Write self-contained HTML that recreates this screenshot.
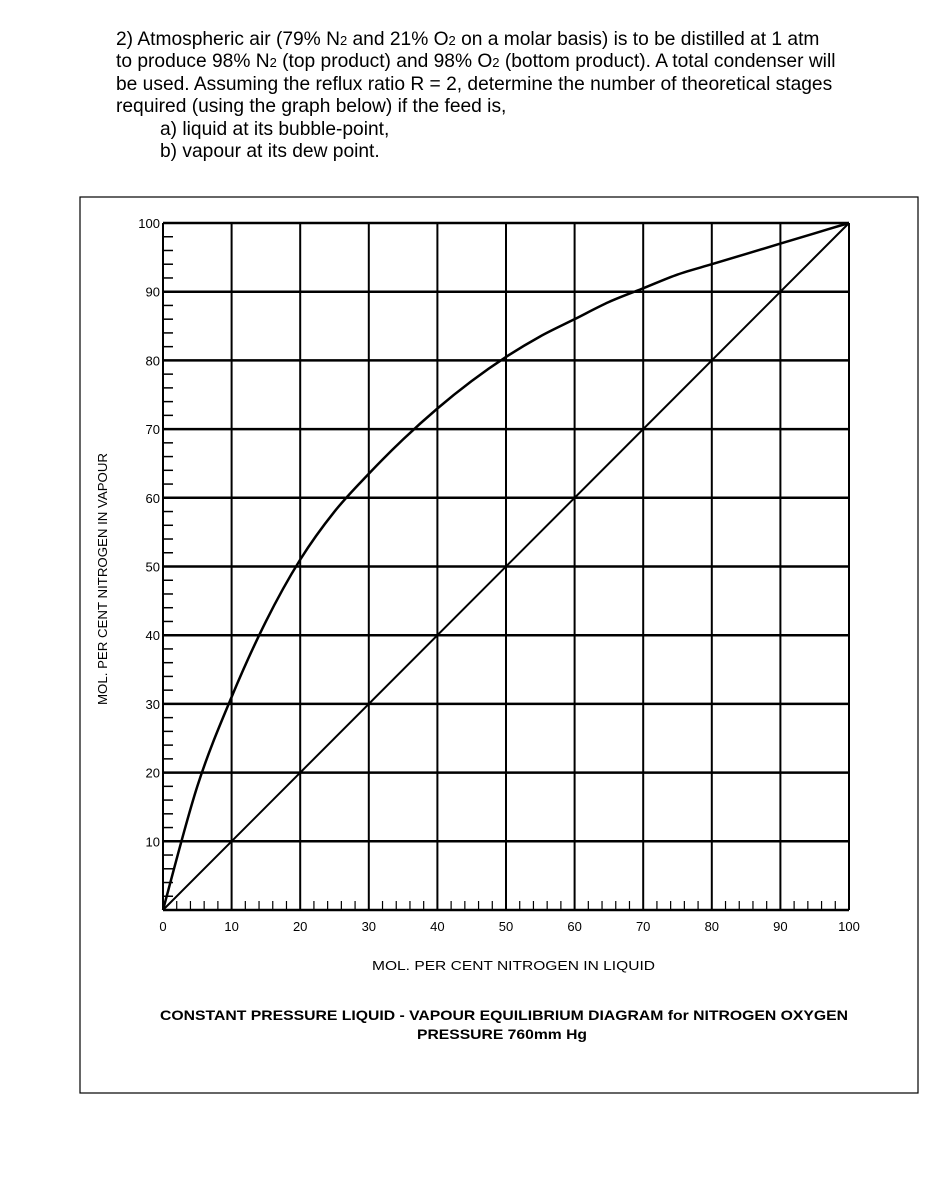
<!DOCTYPE html>
<html><head><meta charset="utf-8"><style>
body{margin:0;background:#fff;width:940px;height:1204px;position:relative;font-family:"Liberation Sans",Arial,sans-serif;overflow:hidden}
.q{position:absolute;font-size:19.2px;line-height:22px;color:#000;white-space:nowrap}
.q sub{font-size:13px;vertical-align:baseline;line-height:0}
</style></head><body>
<div class="q" style="left:116px;top:29px">2) Atmospheric air (79% N<sub>2</sub> and 21% O<sub>2</sub> on a molar basis) is to be distilled at 1 atm</div>
<div class="q" style="left:116px;top:51px">to produce 98% N<sub>2</sub> (top product) and 98% O<sub>2</sub> (bottom product). A total condenser will</div>
<div class="q" style="left:116px;top:74px">be used. Assuming the reflux ratio R = 2, determine the number of theoretical stages</div>
<div class="q" style="left:116px;top:96px">required (using the graph below) if the feed is,</div>
<div class="q" style="left:160px;top:119px">a) liquid at its bubble-point,</div>
<div class="q" style="left:160px;top:141px">b) vapour at its dew point.</div>
<svg id="chart" width="940" height="1204" style="position:absolute;left:0;top:0">
<rect x="80" y="197" width="838" height="896" fill="none" stroke="#000" stroke-width="1.2"/>
<g id="grid"></g><g id="marks"></g>
<text x="372" y="970" font-size="13" textLength="283" lengthAdjust="spacingAndGlyphs" font-family="Liberation Sans,sans-serif">MOL. PER CENT NITROGEN IN LIQUID</text>
<text transform="translate(107,705) rotate(-90)" font-size="13" textLength="252" lengthAdjust="spacingAndGlyphs" font-family="Liberation Sans,sans-serif">MOL. PER CENT NITROGEN IN VAPOUR</text>
<text x="160" y="1020" font-size="14" font-weight="bold" textLength="688" lengthAdjust="spacingAndGlyphs" font-family="Liberation Sans,sans-serif">CONSTANT PRESSURE LIQUID - VAPOUR EQUILIBRIUM DIAGRAM for NITROGEN OXYGEN</text>
<text x="417" y="1039" font-size="14" font-weight="bold" textLength="170" lengthAdjust="spacingAndGlyphs" font-family="Liberation Sans,sans-serif">PRESSURE 760mm Hg</text>
</svg>
<script>
const ticks=[0,10,20,30,40,50,60,70,80,90,100];
const liqX=[0,5,10,15,20,25,30,35,40,45,50,55,60,65,70,75,80,85,90,95,100];
const vapY=[0,18,31,42,51,58,63.5,68.5,73,77,80.5,83.5,86,88.5,90.5,92.5,94,95.5,97,98.5,100];
const X0=163,X1=849,Y0=910,Y1=223;
const sx=v=>X0+(X1-X0)*v/100, sy=v=>Y0-(Y0-Y1)*v/100;
const NS="http://www.w3.org/2000/svg";
const g=document.getElementById('grid'),m=document.getElementById('marks');
function mk(p,t,a){const e=document.createElementNS(NS,t);for(const k in a)e.setAttribute(k,a[k]);p.appendChild(e);return e;}
ticks.forEach(t=>{
 let l=mk(g,'line',{x1:sx(t),x2:sx(t),y1:Y0,y2:Y1,stroke:'#000','stroke-width':2});
 
 
 l=mk(g,'line',{x1:X0,x2:X1,y1:sy(t),y2:sy(t),stroke:'#000','stroke-width':2.5});
 
 
 let tx=mk(g,'text',{x:sx(t),y:Y0+21,'font-size':13,'text-anchor':'middle','font-family':'Liberation Sans,sans-serif'});
 tx.textContent=t;
 
 
 if(t>0){tx=mk(g,'text',{x:X0-3,y:sy(t)+5,'font-size':13,'text-anchor':'end','font-family':'Liberation Sans,sans-serif'});
 tx.textContent=t;
 
 }
});
for(let v=2;v<100;v+=2){if(v%10==0)continue;
 let l=mk(g,'line',{x1:X0,x2:X0+10,y1:sy(v),y2:sy(v),stroke:'#000','stroke-width':1.5});
 
 
 l=mk(g,'line',{x1:sx(v),x2:sx(v),y1:Y0,y2:Y0-9,stroke:'#000','stroke-width':1.2});
 
 }
let d=mk(m,'line',{x1:sx(0),y1:sy(0),x2:sx(100),y2:sy(100),stroke:'#000','stroke-width':2});


let pts=liqX.map((x,i)=>[sx(x),sy(vapY[i])]);
let p='M'+pts[0];for(let i=0;i<pts.length-1;i++){const a=pts[Math.max(i-1,0)],b=pts[i],c=pts[i+1],e=pts[Math.min(i+2,pts.length-1)];
p+=` C${b[0]+(c[0]-a[0])/6},${b[1]+(c[1]-a[1])/6} ${c[0]-(e[0]-b[0])/6},${c[1]-(e[1]-b[1])/6} ${c[0]},${c[1]}`;}
let c=mk(m,'path',{d:p,fill:'none',stroke:'#000','stroke-width':2.5});


</script>
</body></html>
